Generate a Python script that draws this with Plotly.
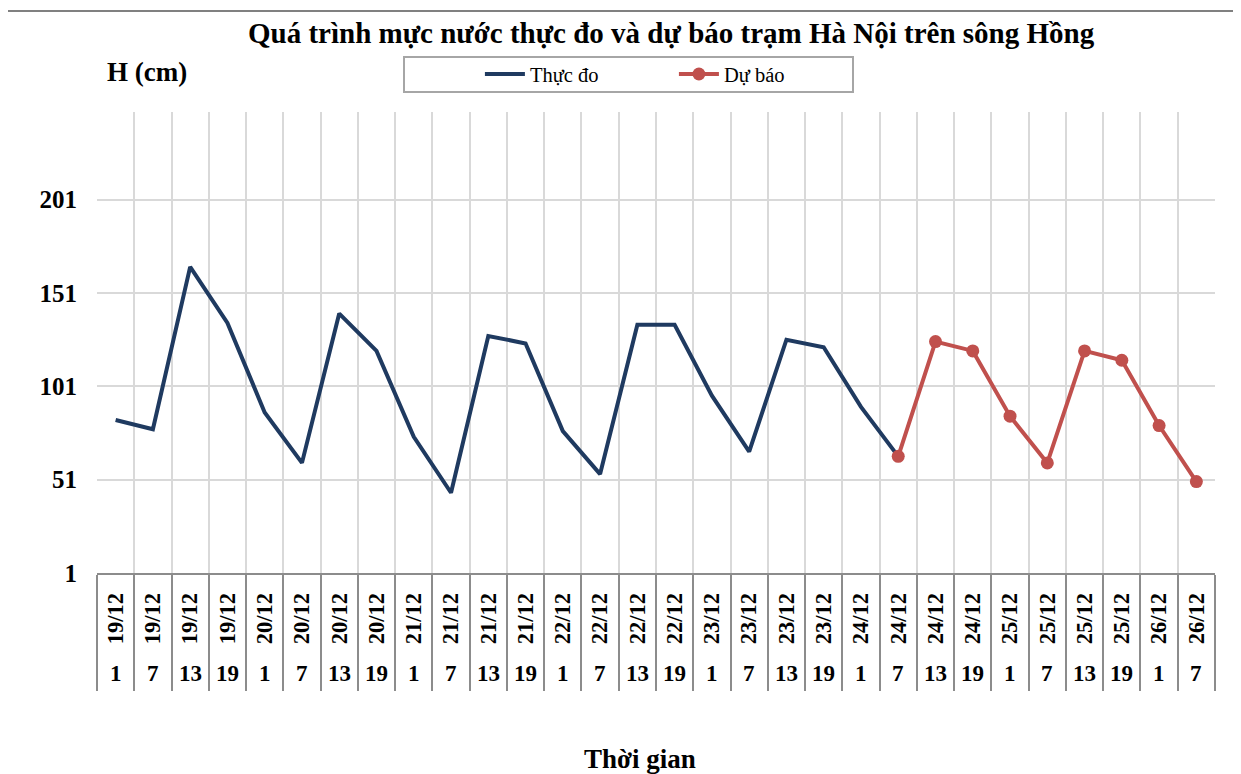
import plotly.graph_objects as go

dates = ["19/12"] * 4 + ["20/12"] * 4 + ["21/12"] * 4 + ["22/12"] * 4 + ["23/12"] * 4 + ["24/12"] * 4 + ["25/12"] * 4 + ["26/12"] * 2
hours = ["1", "7", "13", "19"] * 7 + ["1", "7"]

observed = [83, 78, 165, 135, 87, 60, 140, 120, 74, 44, 128, 124,
            77, 54, 134, 134, 96, 66, 126, 122, 90, 63.5]
forecast = [None] * 21 + [63.5, 125, 120, 85, 60, 120, 115, 80, 50]

y_ticks = [1, 51, 101, 151, 201]

FONT = "Times New Roman, Liberation Serif, serif"
NAVY = "#1F3A60"
RED = "#C0504D"
GRID = "#D9D9D9"
DARK = "#8C8C8C"

idx = list(range(len(dates)))

fig = go.Figure()
fig.add_trace(go.Scatter(x=idx[:len(observed)], y=observed, mode="lines", name="Thực đo",
                         line=dict(color=NAVY, width=4)))
fig.add_trace(go.Scatter(x=idx, y=forecast, mode="lines+markers", name="Dự báo",
                         line=dict(color=RED, width=4), marker=dict(size=13, color=RED)))

fig.update_layout(
    width=1241, height=774,
    margin=dict(l=89, r=34, t=104, b=209),
    paper_bgcolor="white", plot_bgcolor="white",
    font=dict(family=FONT, color="black"),
    showlegend=True,
    legend=dict(orientation="h", x=0.3425, y=1.082, xanchor="left", yanchor="middle",
                font=dict(size=20.5, family=FONT), bgcolor="rgba(0,0,0,0)",
                entrywidth=139, itemwidth=40),
)

fig.update_xaxes(
    range=[-0.5, len(dates) - 0.5],
    tickmode="array", tickvals=idx, ticktext=dates, tickangle=-90,
    tickfont=dict(size=22.5, family=FONT, color="black", weight="bold"),
    ticks="outside", ticklen=9, tickcolor="rgba(0,0,0,0)",
    showgrid=False, zeroline=False,
    showline=True, linecolor=DARK, linewidth=2,
    minor=dict(tick0=-0.5, dtick=1, showgrid=True, gridcolor=GRID, gridwidth=2,
               ticks="outside", ticklen=116, tickcolor=DARK, tickwidth=2),
)
fig.update_yaxes(
    range=[1, 248], tickmode="array", tickvals=y_ticks,
    tickfont=dict(size=25, family=FONT, color="black", weight="bold"),
    ticks="outside", ticklen=14, tickcolor="rgba(0,0,0,0)",
    showgrid=True, gridcolor=GRID, gridwidth=2, zeroline=False, showline=False,
)

for i, h in enumerate(hours):
    fig.add_annotation(x=idx[i], y=-0.217, xref="x", yref="paper", text=f"<b>{h}</b>",
                       showarrow=False, font=dict(size=23, family=FONT, color="black"),
                       xanchor="center", yanchor="middle")

fig.add_annotation(x=(671 - 97) / 1118, y=(573 - 33) / 461, xref="paper", yref="paper",
                   text="<b>Quá trình mực nước thực đo và dự báo trạm Hà Nội trên sông Hồng</b>",
                   showarrow=False, font=dict(size=29, family=FONT, color="black"),
                   xanchor="center", yanchor="middle")
fig.add_annotation(x=(105 - 97) / 1118, y=(573 - 72) / 461, xref="paper", yref="paper",
                   text="<b>H (cm)</b>",
                   showarrow=False, font=dict(size=27, family=FONT, color="black"),
                   xanchor="left", yanchor="middle")
fig.add_annotation(x=(640 - 97) / 1118, y=(573 - 759) / 461, xref="paper", yref="paper",
                   text="<b>Thời gian</b>",
                   showarrow=False, font=dict(size=27, family=FONT, color="black"),
                   xanchor="center", yanchor="middle")

# legend box and chart frame
fig.add_shape(type="rect", xref="paper", yref="paper",
              x0=(404 - 97) / 1118, x1=(853 - 97) / 1118,
              y0=(573 - 92) / 461, y1=(573 - 57) / 461,
              line=dict(color="#A6A6A6", width=2), fillcolor="rgba(0,0,0,0)")
fig.add_shape(type="rect", xref="paper", yref="paper",
              x0=(6 - 97) / 1118, x1=(1260 - 97) / 1118,
              y0=(573 - 800) / 461, y1=(573 - 11) / 461,
              line=dict(color="#808080", width=2), fillcolor="rgba(0,0,0,0)")

fig.write_html("out.html")
